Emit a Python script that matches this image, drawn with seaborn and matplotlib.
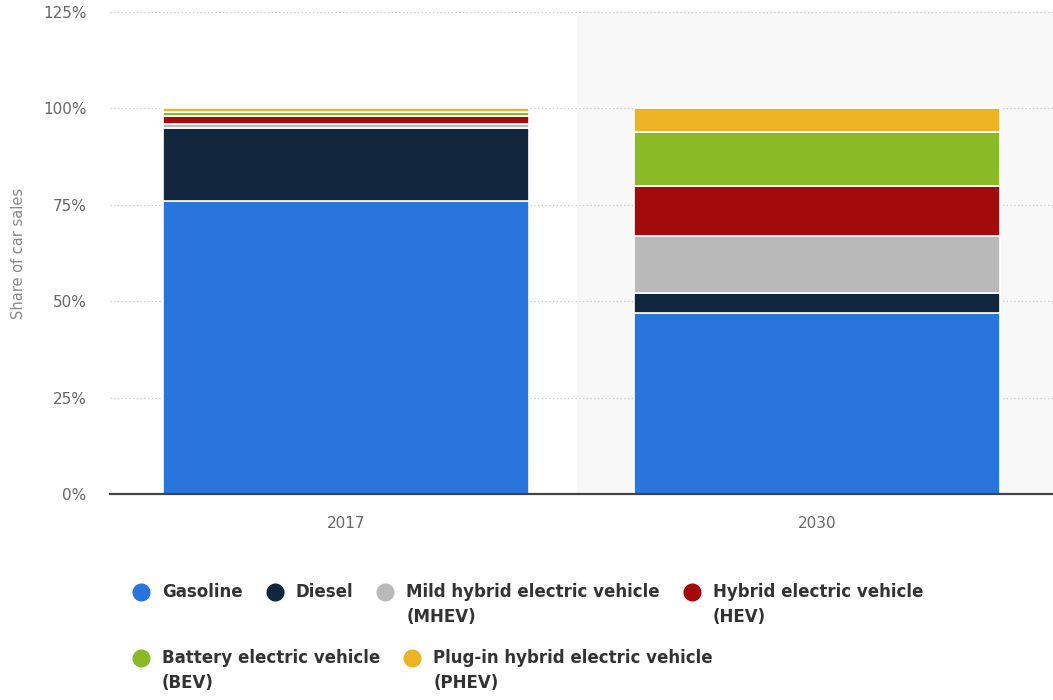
import pandas as pd
import matplotlib.pyplot as plt
import seaborn as sns
from matplotlib.lines import Line2D

# ---- Data ----
years = ["2017", "2030"]
fuel_types = [
    "Gasoline",
    "Diesel",
    "Mild hybrid electric vehicle\n(MHEV)",
    "Hybrid electric vehicle\n(HEV)",
    "Battery electric vehicle\n(BEV)",
    "Plug-in hybrid electric vehicle\n(PHEV)",
]
gasoline = [76, 47]
diesel = [19, 5]
mhev = [1, 15]
hev = [2, 13]
bev = [1, 14]
phev = [1, 6]
colors = ["#2876dd", "#12263d", "#b9b9b9", "#a30a0c", "#8abb26", "#ecb425"]

series = [gasoline, diesel, mhev, hev, bev, phev]
df = pd.DataFrame({"Year": years})
for name, vals in zip(fuel_types, series):
    df[name] = vals

sns.set_style("white")
plt.rcParams["font.family"] = ["DejaVu Sans"]

W, H = 1053, 700
fig = plt.figure(figsize=(W / 100, H / 100), dpi=100)
ax = fig.add_axes([110 / W, 1 - 494 / H, 1 - 110 / W, (494 - 12) / H])

# hover-style highlight behind the 2030 category
ax.axvspan(0.49, 1.5, color="#f8f8f8", zorder=0)

bottom = [0] * len(years)
for name, col in zip(fuel_types, colors):
    sns.barplot(data=df, x="Year", y=name, color=col, bottom=bottom,
                width=0.776, edgecolor="white", linewidth=1.2,
                saturation=1, ax=ax, zorder=3)
    bottom = [b + v for b, v in zip(bottom, df[name])]

ax.set_xlim(-0.5, 1.5)
ax.set_ylim(0, 125)
ax.set_yticks([0, 25, 50, 75, 100, 125])
ax.set_yticklabels([f"{t}%" for t in [0, 25, 50, 75, 100, 125]])
ax.yaxis.grid(True, linestyle=(0, (1, 2)), color="#c8c8c8", linewidth=0.9, zorder=1)
ax.set_axisbelow(True)
ax.tick_params(axis="both", length=0, labelsize=11, labelcolor="#666666")
ax.tick_params(axis="y", pad=17)
ax.tick_params(axis="x", pad=16)
for s in ["top", "right", "left"]:
    ax.spines[s].set_visible(False)
ax.spines["bottom"].set_color("#444444")
ax.spines["bottom"].set_linewidth(1.6)
ax.spines["bottom"].set_zorder(5)
ax.set_xlabel("")
ax.set_ylabel("Share of car sales", fontsize=10.5, color="#888888")
ax.yaxis.set_label_coords(-0.089, 0.5)

# ---- Legend: two flowed rows, marker aligned with the first text line ----
fig.canvas.draw()
renderer = fig.canvas.get_renderer()
rows = [(range(0, 4), 592), (range(4, 6), 658)]
for idx, y_px in rows:
    x_px = 133
    for i in idx:
        fig.add_artist(Line2D([(x_px + 8) / W], [1 - y_px / H], marker="o",
                              markersize=12, color=colors[i], linestyle="",
                              transform=fig.transFigure))
        txt = fig.text((x_px + 29) / W, 1 - (y_px - 9) / H, fuel_types[i],
                       fontsize=12, fontweight="bold", color="#333333",
                       va="top", ha="left", linespacing=1.5)
        bb = txt.get_window_extent(renderer)
        x_px = bb.x1 + 24

fig.savefig("out.png", dpi=100)
